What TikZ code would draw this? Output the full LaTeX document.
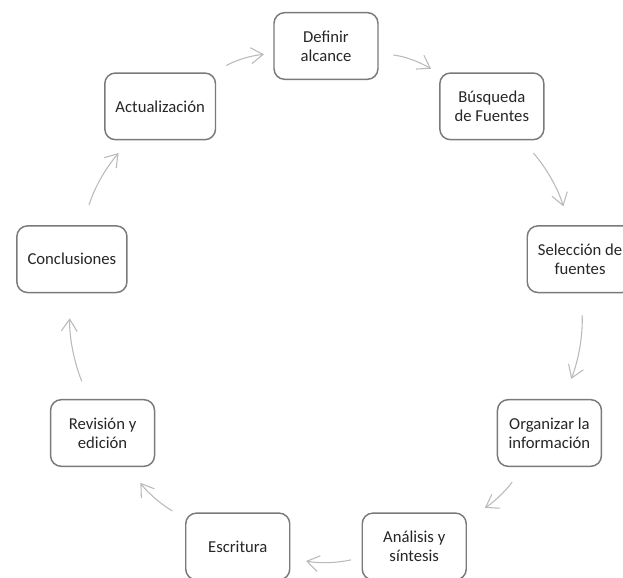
\documentclass[tikz,border=0pt]{standalone}
\usepackage{fontspec}
\setmainfont{Carlito}
\usetikzlibrary{arrows.meta}

\begin{document}
\begin{tikzpicture}[x=0.75pt,y=0.75pt,
  stage/.style={draw=black!52,line width=1.1pt,rounded corners=8pt,fill=white,
    minimum width=78pt,minimum height=50pt,inner xsep=8pt,align=center,
    font=\fontsize{12.5}{14.5}\selectfont,text=black!85},
  link/.style={draw=black!27,line width=0.8pt,
    -{Straight Barb[length=9pt,width=12pt]}}]
  \useasboundingbox (-326,-273) rectangle (297,304);
  \clip (-326,-273) rectangle (297,304);
  % the nine stages round the circle
  \foreach \txt [count=\i] in {{Definir\\alcance},{Búsqueda\\de Fuentes},
      {Selección de\\fuentes},{Organizar la\\información},{Análisis y\\síntesis},
      Escritura,{Revisión y\\edición},Conclusiones,Actualización}
    \node[stage] (s\i) at ({130-40*\i}:193.5pt) {\txt};
  % arrows, clockwise
  \foreach \i/\j/\sa/\sb in {1/2/11/7,2/3/12.6/14.7,3/4/16.4/16.2,
      4/5/13.9/15.5,5/6/8.1/11.9,6/7/11/14.5,7/8/14.2/18.8,
      8/9/15.8/12.5,9/1/10/7}
    \draw[link,shorten <=\sa pt,shorten >=\sb pt] (s\i) to[bend left=12] (s\j);
\end{tikzpicture}
\end{document}
